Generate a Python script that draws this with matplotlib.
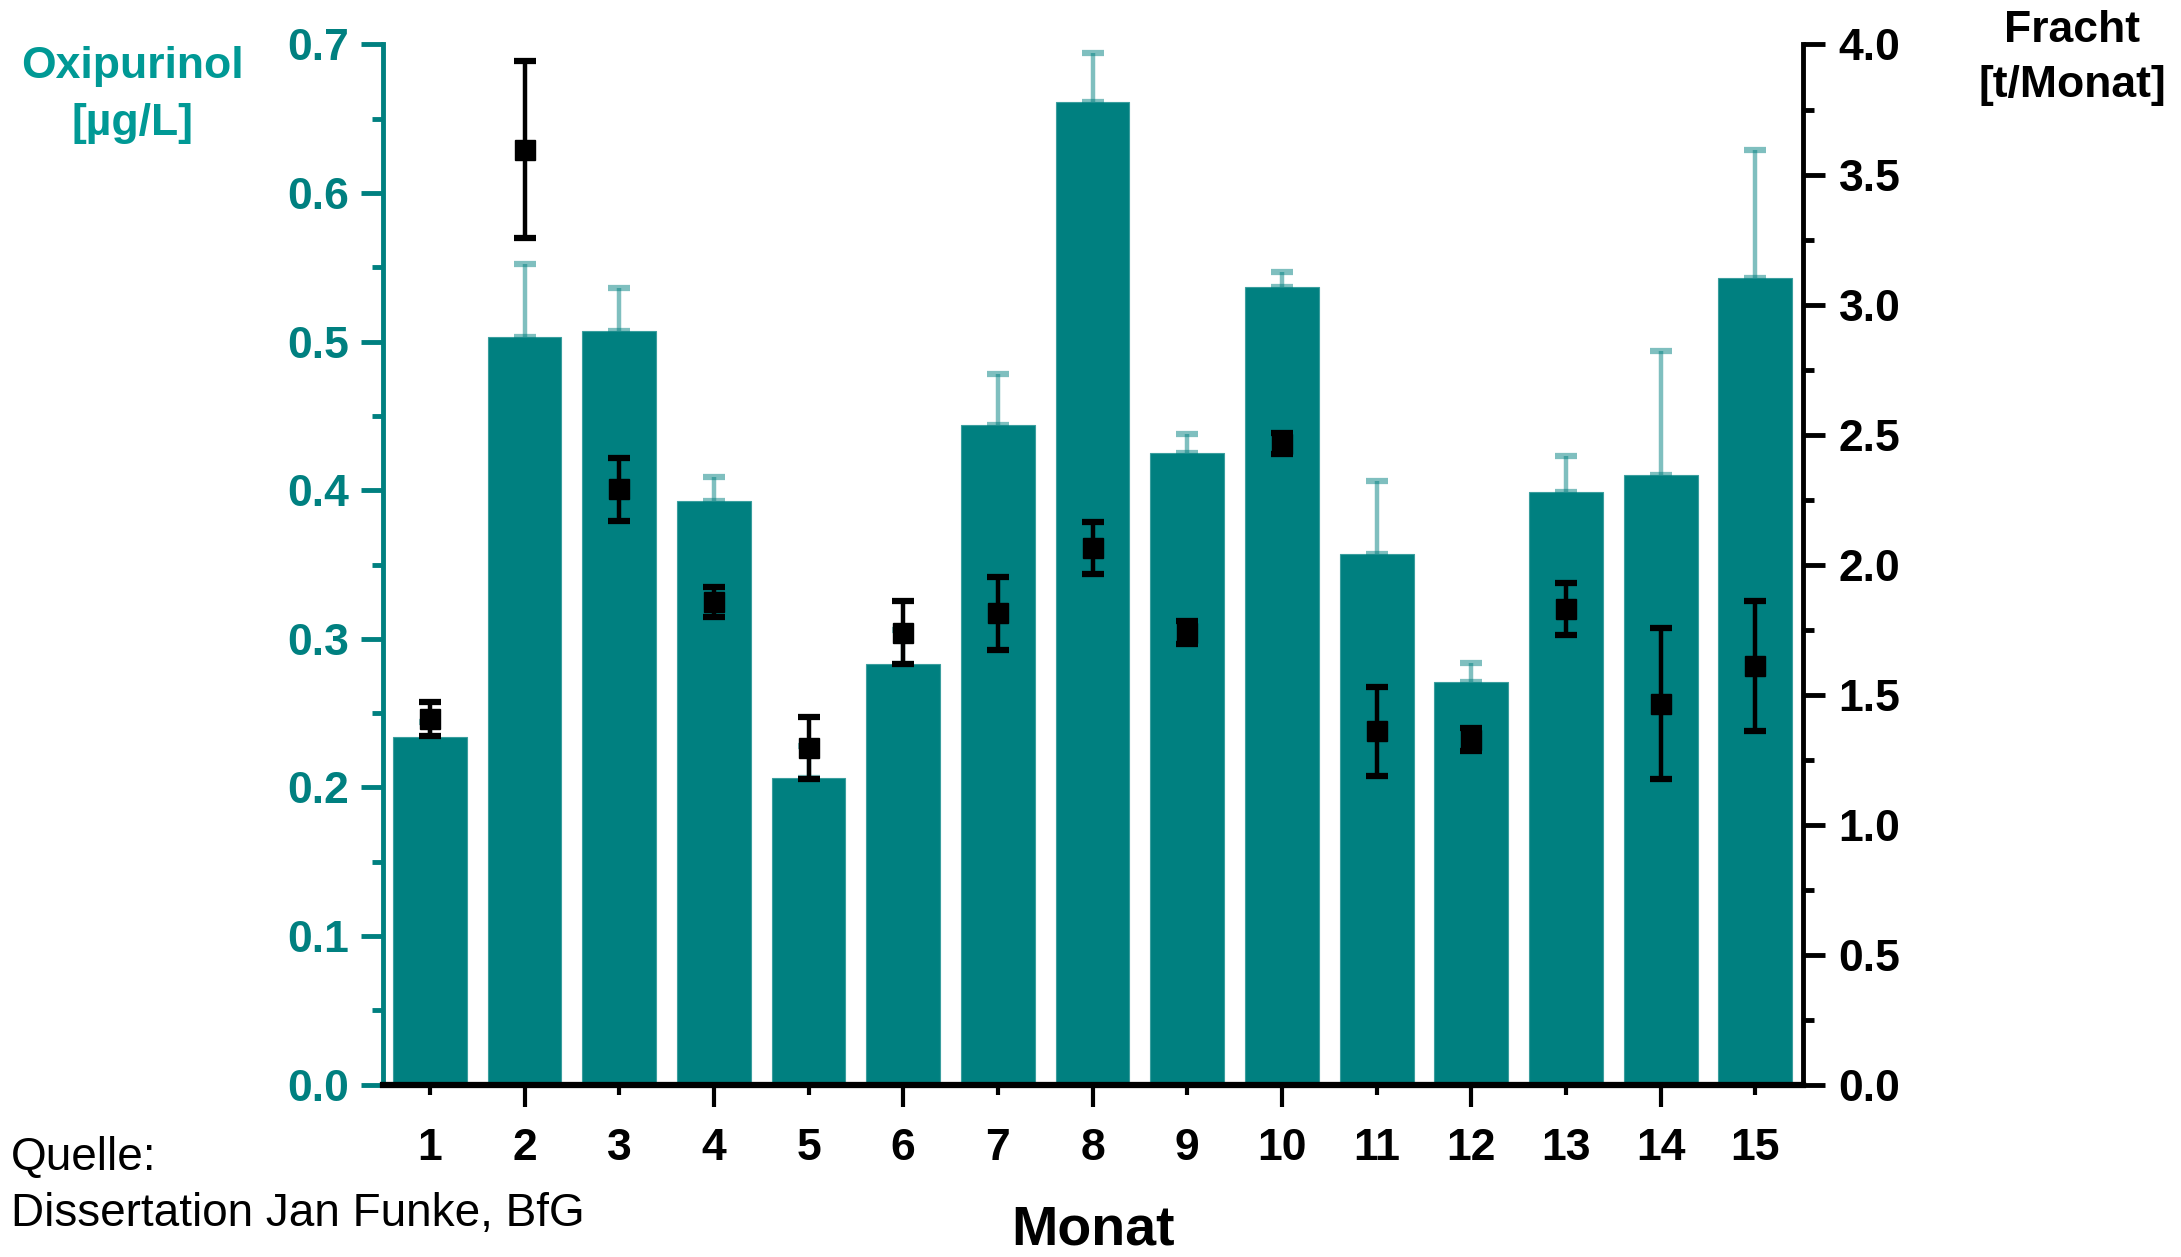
import numpy as np
import matplotlib.pyplot as plt
from matplotlib.ticker import MultipleLocator

# Daten
monat = np.arange(1, 16)
oxi = [0.234, 0.503, 0.507, 0.393, 0.206, 0.283, 0.444, 0.661, 0.425, 0.537,
       0.357, 0.271, 0.399, 0.410, 0.543]
oxi_err = [0.010, 0.049, 0.029, 0.016, 0.022, 0.023, 0.034, 0.033, 0.013, 0.010,
           0.049, 0.013, 0.024, 0.084, 0.086]
fracht = [1.406, 3.596, 2.289, 1.856, 1.294, 1.738, 1.813, 2.064, 1.738, 2.465,
          1.358, 1.326, 1.829, 1.465, 1.610]
fracht_err = [0.064, 0.34, 0.12, 0.058, 0.12, 0.12, 0.14, 0.10, 0.045, 0.04,
              0.17, 0.045, 0.10, 0.29, 0.25]

teal = '#008080'
teal_txt = '#009995'
plt.rcParams['font.family'] = ['Liberation Sans', 'DejaVu Sans']

fig = plt.figure(figsize=(21.81, 12.57), dpi=100)
ax = fig.add_axes([0.1754, 0.1372, 0.8265 - 0.1754, 0.9646 - 0.1372])

ax.bar(monat, oxi, width=0.78, color=teal, edgecolor='#3a9e9e', linewidth=0.8, zorder=2)
ax.errorbar(monat, oxi, yerr=[np.zeros(15), oxi_err], fmt='none', ecolor=teal,
            alpha=0.5, elinewidth=3.2, capsize=8, capthick=4.5, zorder=3)

ax.set_xlim(0.5, 15.5)
ax.set_ylim(0, 0.7)
ax.yaxis.set_major_locator(MultipleLocator(0.1))
ax.yaxis.set_minor_locator(MultipleLocator(0.05))
ax.set_yticklabels([f'{v:.1f}' for v in ax.get_yticks()])
# lange Ticks bei geraden, kurze bei ungeraden Monaten
ax.set_xticks(list(range(2, 16, 2)))
ax.set_xticklabels([str(m) for m in range(2, 16, 2)])
ax.set_xticks(list(range(1, 16, 2)), minor=True)
ax.set_xticklabels([str(m) for m in range(1, 16, 2)], minor=True)

ax.spines['top'].set_visible(False)
ax.spines['right'].set_visible(False)
ax.spines['left'].set_color(teal)
ax.spines['left'].set_linewidth(3.5)
ax.spines['bottom'].set_linewidth(4.5)
ax.tick_params(axis='y', which='major', colors=teal, length=16, width=3.5, pad=8,
               labelsize=32)
ax.tick_params(axis='y', which='minor', colors=teal, length=8, width=3.5)
ax.tick_params(axis='x', which='major', length=16, width=3, pad=15, labelsize=32)
ax.tick_params(axis='x', which='minor', length=7, width=3, pad=24, labelsize=32)
for lab in ax.get_yticklabels() + ax.get_xticklabels() + ax.get_xticklabels(minor=True):
    lab.set_fontweight('bold')

ax2 = ax.twinx()
ax2.errorbar(monat, fracht, yerr=fracht_err, fmt='s', color='black', markersize=14,
             elinewidth=3.2, capsize=8, capthick=4.5, zorder=5)
ax2.set_ylim(0, 4.0)
ax2.yaxis.set_major_locator(MultipleLocator(0.5))
ax2.yaxis.set_minor_locator(MultipleLocator(0.25))
ax2.set_yticklabels([f'{v:.1f}' for v in ax2.get_yticks()])
for s in ['top', 'left', 'bottom']:
    ax2.spines[s].set_visible(False)
ax2.spines['right'].set_linewidth(3.5)
ax2.tick_params(axis='y', which='major', length=16, width=3.5, pad=10, labelsize=32)
ax2.tick_params(axis='y', which='minor', length=8, width=3.5)
for lab in ax2.get_yticklabels():
    lab.set_fontweight('bold')

fig.text(0.0606, 0.947, 'Oxipurinol', color=teal_txt, fontsize=32,
         fontweight='bold', ha='center', va='center')
fig.text(0.0606, 0.902, '[µg/L]', color=teal_txt, fontsize=32,
         fontweight='bold', ha='center', va='center')
fig.text(0.950, 0.976, 'Fracht', fontsize=32, fontweight='bold', ha='center', va='center')
fig.text(0.950, 0.932, '[t/Monat]', fontsize=32, fontweight='bold', ha='center', va='center')
fig.text(0.501, 0.021, 'Monat', fontsize=40, fontweight='bold', ha='center', va='center')
fig.text(0.005, 0.0786, 'Quelle:', fontsize=33, ha='left', va='center')
fig.text(0.005, 0.0344, 'Dissertation Jan Funke, BfG', fontsize=33, ha='left', va='center')

plt.savefig('out.png', dpi=100)
